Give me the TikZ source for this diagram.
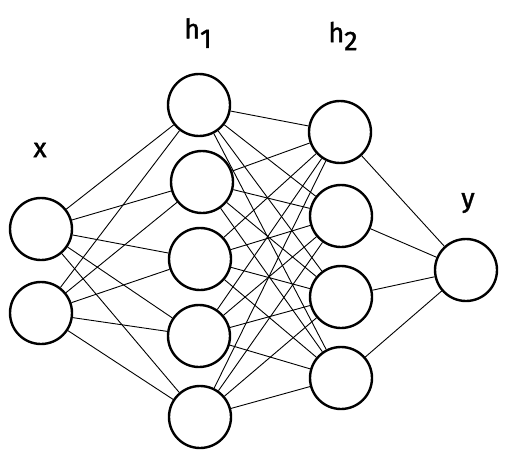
\documentclass[tikz,border=0pt]{standalone}
\usepackage{fontspec}
\setmainfont{Fira Sans}
\begin{document}
\begin{tikzpicture}[x=1pt,y=-1pt,
  neuron/.style={circle,draw,line width=2.4pt,minimum size=62pt,inner sep=0pt},
  edge/.style={line width=0.9pt},
  lbl/.style={font=\fontsize{27}{29}\selectfont\addfontfeatures{FakeBold=1.5}}]
\useasboundingbox (0,0) rectangle (509,455);
\node[neuron] (x1) at (41,229) {};
\node[neuron] (x2) at (41,313) {};
\node[neuron] (a1) at (199,105) {};
\node[neuron] (a2) at (202,182) {};
\node[neuron] (a3) at (200,259) {};
\node[neuron] (a4) at (199,336) {};
\node[neuron] (a5) at (200,417) {};
\node[neuron] (b1) at (340,132) {};
\node[neuron] (b2) at (341,216) {};
\node[neuron] (b3) at (341,297) {};
\node[neuron] (b4) at (341,378) {};
\node[neuron] (y) at (466,270) {};
\node[lbl] (lx) at (40,150) {x};
\node[lbl] (lh1) at (198,33) {h\raisebox{-0.35em}{1}};
\node[lbl] (lh2) at (343,36) {h\raisebox{-0.3em}{2}};
\node[lbl] (ly) at (468,203) {y};
\foreach \i in {x1,x2}{
  \foreach \j in {a1,a2,a3,a4,a5}{
    \draw[edge] (\i) -- (\j);
  }
}
\foreach \i in {a1,a2,a3,a4,a5}{
  \foreach \j in {b1,b2,b3,b4}{
    \draw[edge] (\i) -- (\j);
  }
}
\foreach \i in {b1,b2,b3,b4}{
  \draw[edge] (\i) -- (y);
}
\end{tikzpicture}
\end{document}
